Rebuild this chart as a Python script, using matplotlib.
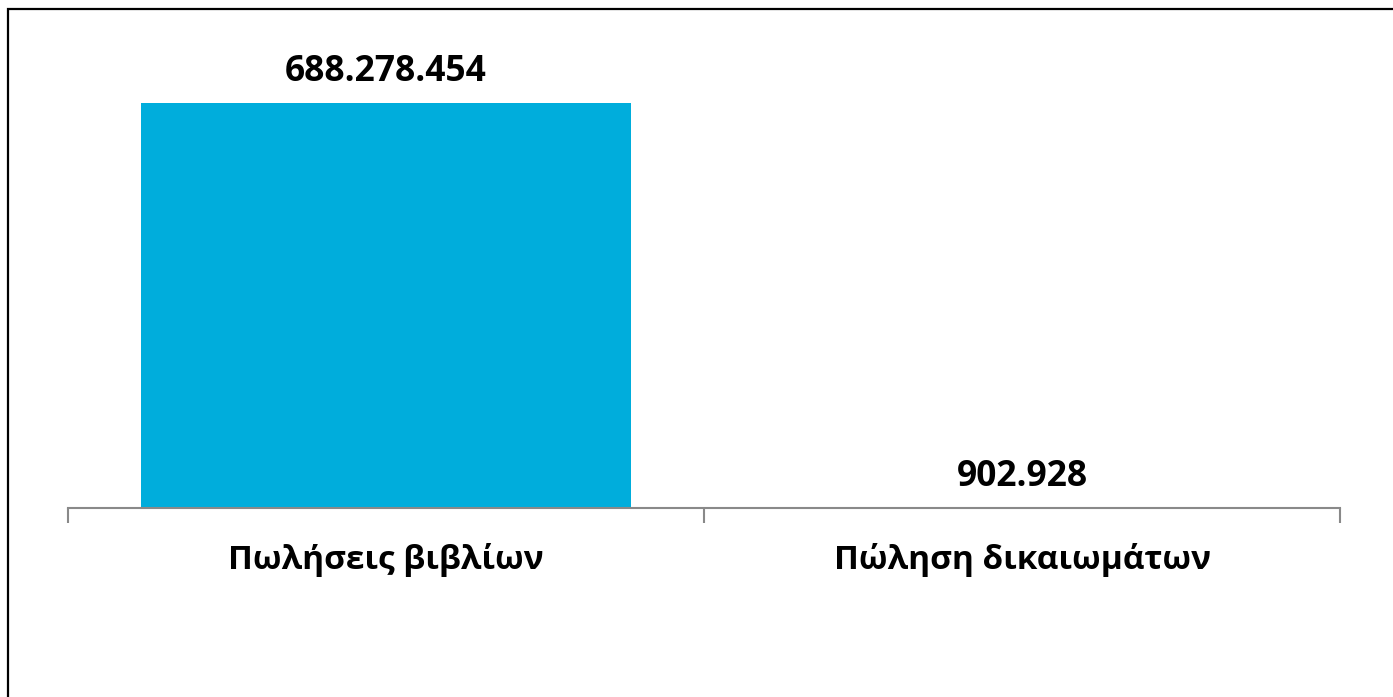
import matplotlib
matplotlib.use("Agg")
import matplotlib.pyplot as plt
from matplotlib.patches import Rectangle

categories = ["Πωλήσεις βιβλίων", "Πώληση δικαιωμάτων"]
values = [688278454, 902928]
value_labels = ["688.278.454", "902.928"]

BAR_COLOR = "#00ADDC"
AXIS_COLOR = "#898989"
FONT = ["Open Sans", "Lato", "DejaVu Sans"]

plt.rcParams["font.family"] = FONT

fig = plt.figure(figsize=(13.93, 6.97), dpi=100)
ax = fig.add_axes([68 / 1393, 189 / 697, 1272 / 1393, 471 / 697])

x = list(range(len(categories)))
ax.bar(x, values, width=0.77, color=BAR_COLOR, zorder=2)

for xi, v, lab in zip(x, values, value_labels):
    ax.annotate(
        lab,
        xy=(xi, v),
        xytext=(0, 15.5),
        textcoords="offset points",
        ha="center",
        va="baseline",
        fontsize=25.5,
        fontweight="bold",
        color="black",
    )

ax.set_xlim(-0.5, 1.5)
ax.set_ylim(0, 800e6)

for side in ("top", "right", "left"):
    ax.spines[side].set_visible(False)
ax.spines["bottom"].set_color(AXIS_COLOR)
ax.spines["bottom"].set_linewidth(1.5)

ax.set_yticks([])
ax.set_xticks(x, categories)
ax.set_xticks([-0.5, 0.5, 1.5], minor=True)
ax.tick_params(axis="x", which="major", length=0, pad=25.5)
ax.tick_params(axis="x", which="minor", length=10.5, width=1.5,
               color=AXIS_COLOR, direction="out")
for t in ax.get_xticklabels():
    t.set_fontsize(24)
    t.set_fontweight("bold")

# outer frame (only top and left edges fall inside the image)
fig.add_artist(Rectangle(
    (8 / 1393, -0.05), 1.1, 1 - 9 / 697 + 0.05,
    transform=fig.transFigure, fill=False,
    edgecolor="black", linewidth=1.6,
))

fig.savefig("out.png", dpi=100)
